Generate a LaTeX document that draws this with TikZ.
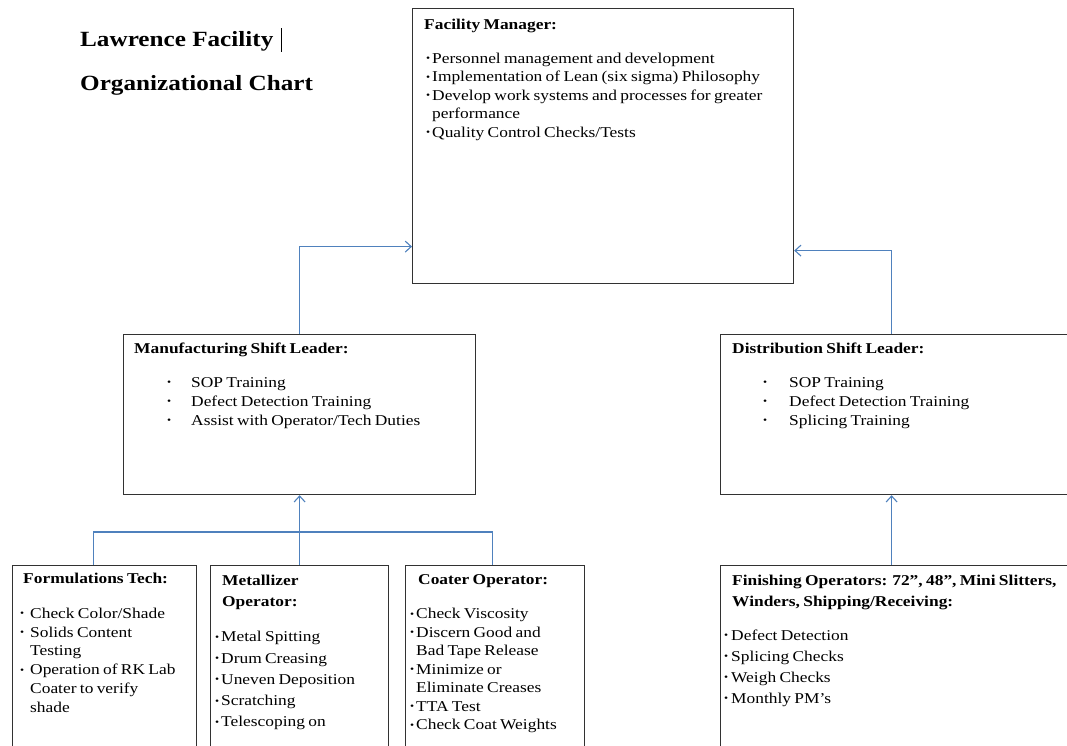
\documentclass[tikz,border=0pt]{standalone}
\usepackage{fontspec}
\setmainfont{Liberation Serif}[FakeStretch=1.16]
\usepackage{tikz}
\usetikzlibrary{arrows.meta, positioning}
\definecolor{linkblue}{RGB}{79,129,189}
\definecolor{boxgray}{RGB}{50,50,50}
\hyphenpenalty=10000

\newlength\dutypre
\newlength\dutyin
\newcommand{\dutyset}[3]{\setlength\dutypre{#1}\setlength\dutyin{#2}\fontsize{15pt}{#3}\selectfont}
\newcommand{\dutydot}{\raisebox{1.6pt}{\fontsize{10pt}{10pt}\selectfont •}}
\newcommand{\duty}[1]{\par\hangindent=\dutyin\hangafter=1\noindent\hbox to\dutyin{\hskip\dutypre\dutydot\hss}#1}
\newcommand{\role}[2]{{\leftskip=#1\relax\noindent\textbf{#2}\par}}

\begin{document}
\begin{tikzpicture}[x=1pt, y=-1pt,
  box/.style={draw=boxgray, line width=1.2pt, anchor=north west, inner sep=0pt},
  txt/.style={anchor=north west, inner sep=0pt, align=left, text width=#1},
  heading/.style={font=\fontsize{21.7pt}{26pt}\selectfont\bfseries, anchor=base west, inner sep=0pt},
  link/.style={draw=linkblue, line width=1.1pt, -{Straight Barb[length=6pt, width=11pt]}},
  bus/.style={draw=linkblue, line width=1.1pt}
]
\useasboundingbox (0,0) rectangle (1067,746);
\clip (0,0) rectangle (1067,746);

% heading
\node[heading] (head1) at (80,47) {Lawrence Facility};
\node[heading] (head2) at (80,91) {Organizational Chart};
\draw[line width=0.8pt] ([xshift=8pt, yshift=-5pt]head1.base east) -- ++(0,-24);

% boxes
\node[box, minimum width=381pt, minimum height=275pt] (fm) at (412,8) {};
\node[box, minimum width=352pt, minimum height=160pt] (mfg) at (123,334) {};
\node[box, minimum width=360pt, minimum height=160pt] (dist) at (720,334) {};
\node[box, minimum width=184pt, minimum height=200pt] (form) at (12,565) {};
\node[box, minimum width=178pt, minimum height=200pt] (met) at (210,565) {};
\node[box, minimum width=179pt, minimum height=200pt] (coat) at (405,565) {};
\node[box, minimum width=360pt, minimum height=200pt] (fin) at (720,565) {};

% texts
\node[txt=365pt] (fmtxt) at ([shift={(12pt,-10.7pt)}]fm.north west) {\dutyset{2pt}{8pt}{18.5pt}%
  \role{0pt}{Facility Manager:}\vspace{15.5pt}
  \duty{Personnel management and development}
  \duty{Implementation of Lean (six sigma) Philosophy}
  \duty{Develop work systems and processes for greater\newline performance}
  \duty{Quality Control Checks/Tests}\par};
\node[txt=335pt] (mfgtxt) at ([shift={(11pt,-8.8pt)}]mfg.north west) {\dutyset{33pt}{57pt}{19pt}%
  \role{0pt}{Manufacturing Shift Leader:}\vspace{15pt}
  \duty{SOP Training}
  \duty{Defect Detection Training}
  \duty{Assist with Operator/Tech Duties}\par};
\node[txt=335pt] (disttxt) at ([shift={(12pt,-8.8pt)}]dist.north west) {\dutyset{31pt}{57pt}{19pt}%
  \role{0pt}{Distribution Shift Leader:}\vspace{15pt}
  \duty{SOP Training}
  \duty{Defect Detection Training}
  \duty{Splicing Training}\par};
\node[txt=200pt] (formtxt) at ([shift={(8pt,-7.8pt)}]form.north west) {\dutyset{0pt}{10pt}{18.8pt}%
  \role{3pt}{Formulations Tech:}\vspace{16pt}
  \duty{Check Color/Shade}
  \duty{Solids Content\newline Testing}
  \duty{Operation of RK Lab\newline Coater to verify\newline shade}\par};
\node[txt=200pt] (mettxt) at ([shift={(5pt,-9.8pt)}]met.north west) {\dutyset{0pt}{6pt}{21.3pt}%
  \role{7pt}{Metallizer\newline Operator:}\vspace{13.7pt}
  \duty{Metal Spitting}
  \duty{Drum Creasing}
  \duty{Uneven Deposition}
  \duty{Scratching}
  \duty{Telescoping on}\par};
\node[txt=200pt] (coattxt) at ([shift={(5pt,-9.8pt)}]coat.north west) {\dutyset{0pt}{6pt}{18.5pt}%
  \role{8pt}{Coater Operator:}\vspace{15.5pt}
  \duty{Check Viscosity}
  \duty{Discern Good and\newline Bad Tape Release}
  \duty{Minimize or\newline Eliminate Creases}
  \duty{TTA Test}
  \duty{Check Coat Weights}\par};
\node[txt=400pt] (fintxt) at ([shift={(4pt,-9.8pt)}]fin.north west) {\dutyset{0pt}{7pt}{21pt}%
  \role{8pt}{Finishing Operators: 72”, 48”, Mini Slitters,\newline Winders, Shipping/Receiving:}\vspace{13pt}
  \duty{Defect Detection}
  \duty{Splicing Checks}
  \duty{Weigh Checks}
  \duty{Monthly PM’s}\par};

% connectors
\draw[link] (mfg.north) |- ([yshift=-100.5pt]fm.west);
\draw[link] ([xshift=-9pt]dist.north) |- ([yshift=-104.5pt]fm.east);
\draw[bus] ([xshift=-11pt]form.north) -- ++(0,-33) -| ([xshift=-2.5pt]coat.north);
\draw[link] (met.north) -- (mfg.south);
\draw[link] ([xshift=-9pt]fin.north) -- ([xshift=-9pt]dist.south);
\end{tikzpicture}
\end{document}
